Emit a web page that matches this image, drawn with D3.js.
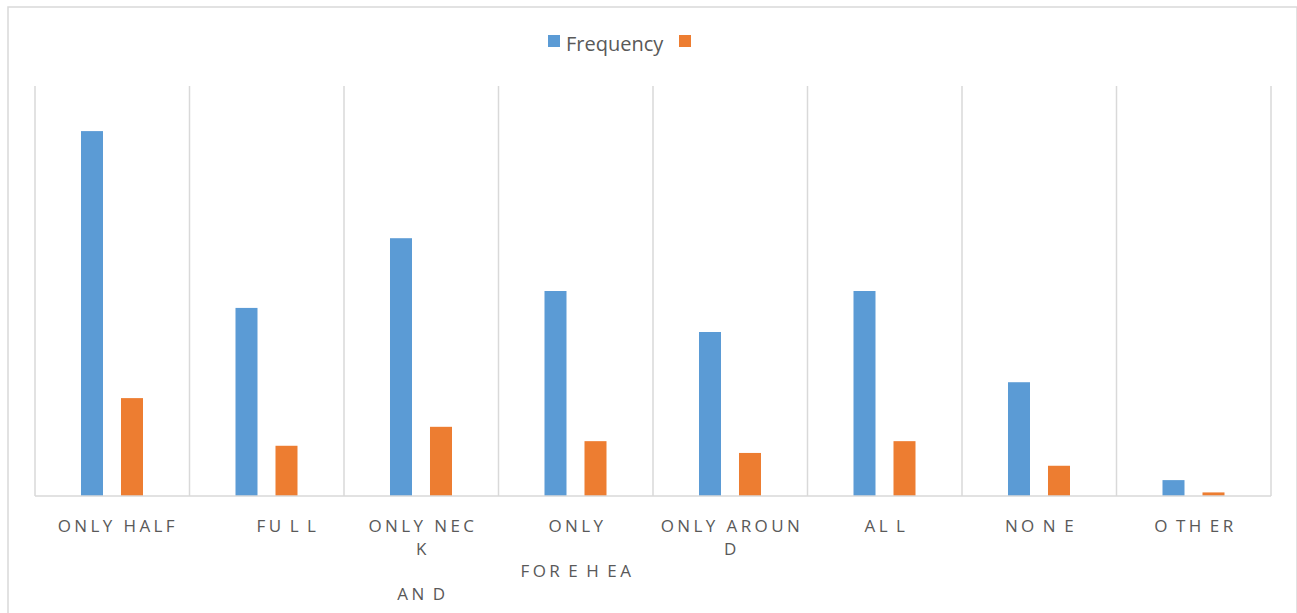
<!DOCTYPE html>
<html>
<head>
<meta charset="utf-8">
<script src="https://cdn.jsdelivr.net/npm/d3@7/dist/d3.min.js"></script>
<style>
  html, body { margin: 0; padding: 0; background: #fff; }
  svg { display: block; }
  text { font-family: "Open Sans", "Noto Sans", sans-serif; fill: #595959; }
</style>
</head>
<body>
<svg id="chart" width="1297" height="613"></svg>
<script>
// ---- data ----
const categories = ["ONLY HALF", "FULL", "ONLY NECK AND", "ONLY FOREHEAD", "ONLY AROUND", "ALL", "NONE", "OTHER"];
// label lines as they wrap in the original picture
const labelLines = [
  ["\u00a0ONLY HALF"],
  ["\u00a0\u00a0\u00a0\u00a0\u00a0FU\u200aL\u200aL"],
  ["ONLY NEC", "K", "", "AN\u200aD"],
  ["ONLY", "", "FOR\u200aE\u200aH\u200aEA"],
  ["ONLY AROUN", "D"],
  ["AL\u200aL"],
  ["NO\u200aN\u200aE"],
  ["O\u200aTH\u200aER"]
];
const seriesNames = ["Frequency", ""];
const frequency = [71.2, 36.7, 50.3, 40.0, 32.0, 40.0, 22.2, 3.1];
const second    = [19.1, 9.8, 13.5, 10.7, 8.4, 10.7, 5.9, 0.7];
const colors = ["#5B9BD5", "#ED7D31"];
const yMax = 80;

// ---- layout ----
const svg = d3.select("#chart");
const plot = { left: 35, right: 1271, top: 86, bottom: 496 };

// outer chart border
svg.append("rect")
  .attr("x", 8).attr("y", 7)
  .attr("width", 1289).attr("height", 610)
  .attr("fill", "#fff").attr("stroke", "#D9D9D9").attr("stroke-width", 1.5);

const x = d3.scaleBand().domain(categories).range([plot.left, plot.right]).paddingInner(0).paddingOuter(0);
const y = d3.scaleLinear().domain([0, yMax]).range([plot.bottom, plot.top]);
const bw = x.bandwidth();
const xs = d3.scaleBand().domain([0, 1]).range([bw * 0.2977, bw * 0.699]).paddingInner(0.45).paddingOuter(0);

// vertical category gridlines
const bounds = categories.map(c => x(c)).concat([plot.right]);
svg.append("g").selectAll("line").data(bounds).join("line")
  .attr("x1", d => d).attr("x2", d => d)
  .attr("y1", plot.top).attr("y2", plot.bottom)
  .attr("stroke", "#D9D9D9").attr("stroke-width", 1.5);

// bars
const seriesData = [frequency, second];
seriesData.forEach((vals, si) => {
  svg.append("g").selectAll("rect").data(vals).join("rect")
    .attr("x", (d, i) => x(categories[i]) + xs(si))
    .attr("width", xs.bandwidth())
    .attr("y", d => y(d))
    .attr("height", d => y(0) - y(d))
    .attr("fill", colors[si]);
});

// baseline
svg.append("line")
  .attr("x1", plot.left).attr("x2", plot.right)
  .attr("y1", plot.bottom).attr("y2", plot.bottom)
  .attr("stroke", "#D9D9D9").attr("stroke-width", 1.5);

// category labels
const lg = svg.append("g");
categories.forEach((c, i) => {
  const cx = x(c) + bw / 2 + 1.7;
  const t = lg.append("text")
    .attr("x", cx)
    .attr("y", 532)
    .attr("text-anchor", "middle")
    .style("font-size", "17px")
    .style("letter-spacing", "3.4px");
  labelLines[i].forEach((ln, j) => {
    t.append("tspan")
      .attr("x", cx)
      .attr("y", 532 + j * 22.5)
      .text(ln === "" ? "\u00a0" : ln);
  });
});

// legend
const legend = svg.append("g");
legend.append("rect").attr("x", 548).attr("y", 35).attr("width", 12).attr("height", 12).attr("fill", colors[0]);
legend.append("text").attr("x", 566).attr("y", 51).style("font-size", "20px").text(seriesNames[0]);
legend.append("rect").attr("x", 679).attr("y", 35).attr("width", 12).attr("height", 12).attr("fill", colors[1]);
legend.append("text").attr("x", 697).attr("y", 51).style("font-size", "20px").text(seriesNames[1]);
</script>
</body>
</html>
